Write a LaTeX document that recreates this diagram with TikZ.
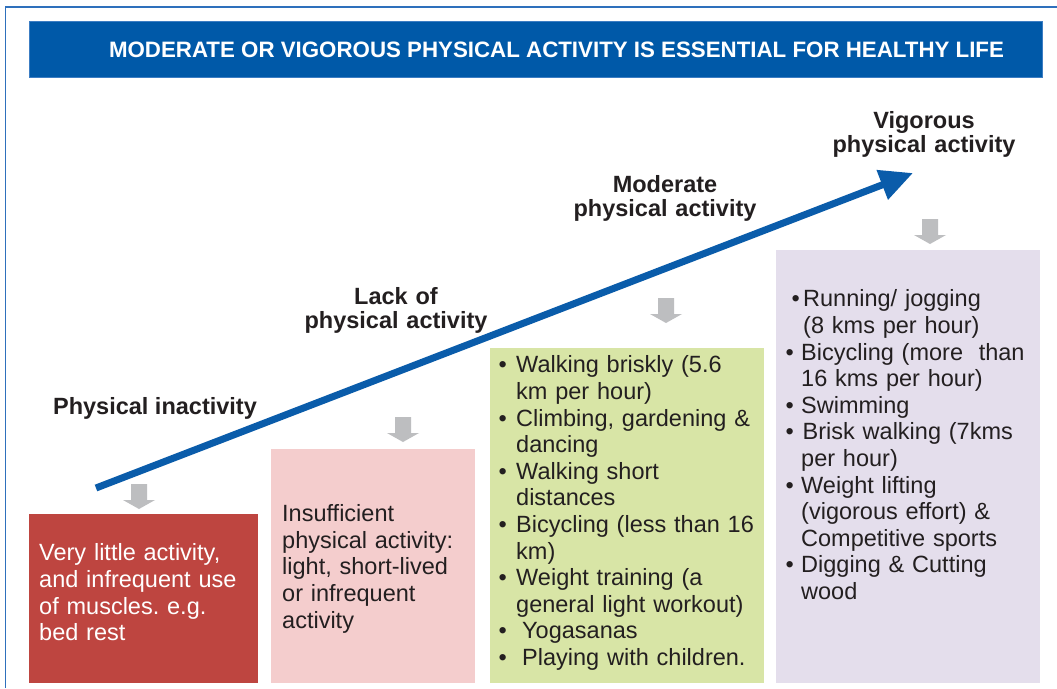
\documentclass[tikz,border=0pt]{standalone}
\usepackage{fontspec}
\setmainfont{Liberation Sans}
\usetikzlibrary{arrows.meta}
\frenchspacing
\definecolor{framec}{RGB}{46,112,188}
\definecolor{bannerc}{RGB}{0,89,168}
\definecolor{bannerb}{RGB}{60,125,195}
\definecolor{arrowc}{RGB}{10,92,170}
\definecolor{grayc}{RGB}{189,190,192}
\definecolor{redc}{RGB}{190,69,64}
\definecolor{pinkc}{RGB}{244,205,205}
\definecolor{greenc}{RGB}{216,229,166}
\definecolor{lavc}{RGB}{228,222,236}
\definecolor{textc}{RGB}{35,31,32}
\newcommand\topstrut{\rule{0pt}{20pt}}
\newcommand\gbul{\makebox[17.5pt][l]{•}}
\newcommand\gind{\hspace*{17.5pt}}
\newcommand\lbul{\makebox[15.5pt][l]{•}}
\newcommand\lind{\hspace*{15.5pt}}
\tikzset{
  boxfill/.style={anchor=north west, inner sep=0pt, draw=none},
  body/.style={anchor=north west, inner sep=0pt, align=left, text width=#1,
    font=\fontsize{23.5}{26.6}\selectfont, text=textc},
  lbl/.style={anchor=north, inner sep=0pt, align=center, text width=260pt,
    font=\bfseries\fontsize{23.5}{24}\selectfont, text=textc},
  mainarrow/.style={draw=arrowc, line width=7pt,
    -{Triangle[length=33pt,width=30pt]}},
  grayarrow/.pic={\fill[grayc] (-8,0) -- (8,0) -- (8,16) -- (16,16) -- (0,25) -- (-16,16) -- (-8,16) -- cycle;}
}
\begin{document}
\begin{tikzpicture}[x=1pt,y=-1pt]
\useasboundingbox (0,0) rectangle (1057,688);
\fill[white] (0,0) rectangle (1057,688);
% outer frame
\draw[framec, line width=1.3pt] (5.5,688) -- (5.5,7) -- (1057,7);
% banner
\node[boxfill, fill=bannerc, draw=bannerb, line width=0.8pt, minimum width=1013pt, minimum height=56pt] (banner) at (28.5,20.5) {};
\node[anchor=base, inner sep=0pt, text=white, font=\bfseries\fontsize{22.3}{26}\selectfont] (title) at (556.5,57.5) {MODERATE OR VIGOROUS PHYSICAL ACTIVITY IS ESSENTIAL FOR HEALTHY LIFE};
% main arrow
\coordinate (as) at (96,488);
\coordinate (ae) at (913,173);
\draw[mainarrow] (as) -- (ae);
% labels
\node[anchor=base, inner sep=0pt, font=\bfseries\fontsize{23.5}{24}\selectfont, text=textc] (l1) at (155,414) {Physical inactivity};
\node[lbl] (l2) at (396,284) {\topstrut Lack of\\physical activity};
\node[lbl] (l3) at (665,172) {\topstrut Moderate\\physical activity};
\node[lbl] (l4) at (924,108) {\topstrut Vigorous\\physical activity};
% gray arrows
\pic at (139,484) {grayarrow};
\pic at (403,417) {grayarrow};
\pic at (666,298) {grayarrow};
\pic at (930,219) {grayarrow};
% boxes
\node[boxfill, fill=redc, minimum width=229pt, minimum height=169pt] (redbox) at (29,514) {};
\node[boxfill, fill=pinkc, minimum width=204pt, minimum height=234pt] (pinkbox) at (271,449) {};
\node[boxfill, fill=greenc, minimum width=274pt, minimum height=335pt] (greenbox) at (490,348) {};
\node[boxfill, fill=lavc, minimum width=264pt, minimum height=433pt] (lavbox) at (776,250) {};
% box texts
\node[body=218pt, text=white] (redtxt) at (39,540.7) {\topstrut Very little activity,\\and infrequent use\\of muscles. e.g.\\bed rest};
\node[body=190pt] (pinktxt) at (282,501.5) {\topstrut Insufficient\\physical activity:\\light, short-lived\\or infrequent\\activity};
\node[body=265pt] (greentxt) at (498.5,352.7) {\topstrut\gbul Walking briskly (5.6\\
\gind km per hour)\\
\gbul Climbing, gardening \&\\
\gind dancing\\
\gbul Walking short\\
\gind distances\\
\gbul Bicycling (less than 16\\
\gind km)\\
\gbul Weight training (a\\
\gind general light workout)\\
\gbul\hspace{6pt}Yogasanas\\
\gbul\hspace{6pt}Playing with children.};
\node[body=266pt] (lavtxt) at (785.5,286.7) {\topstrut\hspace*{6pt}\makebox[11.5pt][l]{•}Running/ jogging\\
\hspace*{17.5pt}(8 kms per hour)\\
\lbul Bicycling (more\ \ than\\
\lind 16 kms per hour)\\
\lbul Swimming\\
\makebox[17pt][l]{•}Brisk walking (7kms\\
\lind per hour)\\
\lbul Weight lifting\\
\lind (vigorous effort) \&\\
\lind Competitive sports\\
\lbul Digging \& Cutting\\
\lind wood};
\end{tikzpicture}
\end{document}
